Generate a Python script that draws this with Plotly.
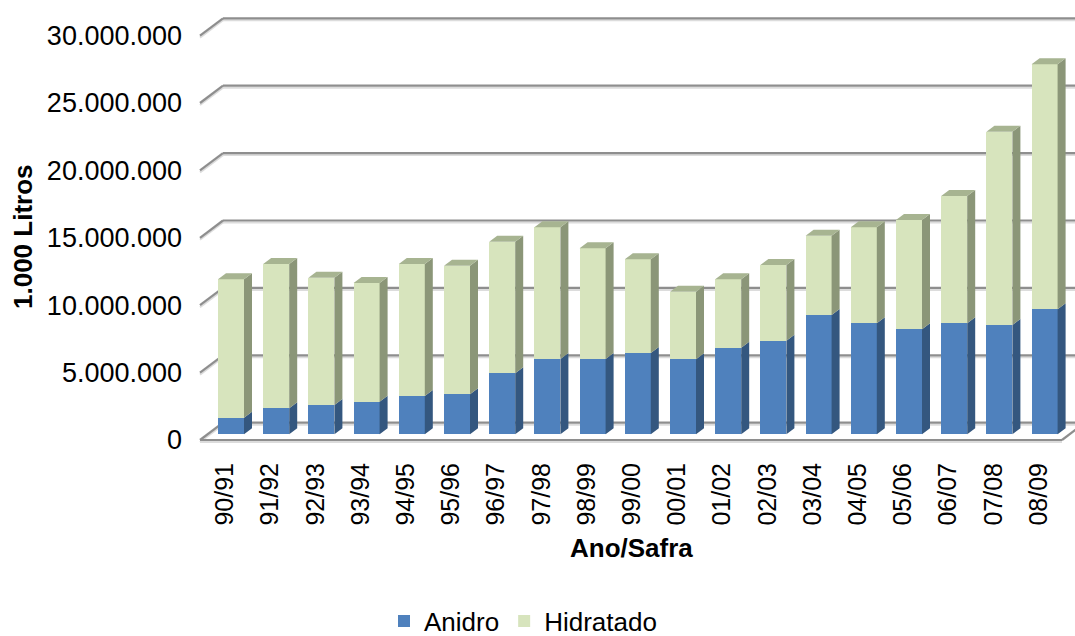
import plotly.graph_objects as go

# Produção de etanol por safra (1.000 litros)
safras = ["90/91", "91/92", "92/93", "93/94", "94/95", "95/96", "96/97", "97/98",
          "98/99", "99/00", "00/01", "01/02", "02/03", "03/04", "04/05", "05/06",
          "06/07", "07/08", "08/09"]
anidro = [1230000, 1930000, 2170000, 2420000, 2840000, 2970000, 4530000, 5590000,
          5590000, 6030000, 5560000, 6420000, 6940000, 8850000, 8230000, 7790000,
          8230000, 8110000, 9270000]
hidratado = [10270000, 10700000, 9450000, 8800000, 9790000, 9540000, 9760000, 9770000,
             8210000, 6950000, 5020000, 5080000, 5620000, 5880000, 7130000, 8110000,
             9450000, 14340000, 18180000]
y_ticks = [0, 5000000, 10000000, 15000000, 20000000, 25000000, 30000000]
y_tick_text = ["0", "5.000.000", "10.000.000", "15.000.000", "20.000.000",
               "25.000.000", "30.000.000"]

# --- figure geometry (pixels) ---
W, H = 1075, 636
ML, MR, MT, MB = 195, 0, 0, 191
PX_CAT = 45.2          # pixels per category
PX_VAL = 13.48         # pixels per 1.000.000
TICK0_PX = 225         # pixel x of first category label
ZERO_PX = 434.3        # pixel y of the bar base


def hx(px):
    return px / PX_CAT


def hy(px):
    return px / PX_VAL * 1e6


x_range = [hx(ML - TICK0_PX), hx(W - MR - TICK0_PX)]
y_range = [-hy((H - MB) - ZERO_PX), hy(ZERO_PX - MT)]

# pseudo-3D offsets
BAR_SHIFT = hx(6)      # bar front face sits a little behind the label plane
BAR_W = hx(26)
DEPTH_X = hx(8)
DEPTH_Y = hy(6)
FRONT_Y = -hy(5.7)     # front plane relative to bar base
BACK_Y = hy(11.6)      # back wall relative to bar base
FRONT_X = hx(200 - TICK0_PX)
BACK_X = hx(223 - TICK0_PX)
FLOOR_END_X = hx(1062 - TICK0_PX)
WALL_DX = BACK_X - FRONT_X

BLUE = "#4F81BD"
BLUE_SIDE = "#34577F"
GREEN = "#D7E4BD"
GREEN_SIDE = "#8B9678"
GREEN_TOP = "#A7B491"
GRID = "#8E8E8E"
GRID_SHADOW = "#DCDCDC"
FONT = "Liberation Sans, Arial, sans-serif"

pos = list(range(len(safras)))
centers = [p + BAR_SHIFT for p in pos]
totals = [a + h for a, h in zip(anidro, hidratado)]

fig = go.Figure()

fig.add_trace(go.Bar(x=centers, y=anidro, width=BAR_W, name="Anidro",
                     marker=dict(color=BLUE, line=dict(width=0))))
fig.add_trace(go.Bar(x=centers, y=hidratado, width=BAR_W, name="Hidratado",
                     marker=dict(color=GREEN, line=dict(width=0))))

# side and top faces of each column
side_blue_x, side_blue_y = [], []
side_green_x, side_green_y = [], []
top_x, top_y = [], []
for c, a, t in zip(centers, anidro, totals):
    xl, xr = c - BAR_W / 2, c + BAR_W / 2
    side_blue_x += [xr, xr + DEPTH_X, xr + DEPTH_X, xr, xr, None]
    side_blue_y += [0, DEPTH_Y, a + DEPTH_Y, a, 0, None]
    side_green_x += [xr, xr + DEPTH_X, xr + DEPTH_X, xr, xr, None]
    side_green_y += [a, a + DEPTH_Y, t + DEPTH_Y, t, a, None]
    top_x += [xl, xr, xr + DEPTH_X, xl + DEPTH_X, xl, None]
    top_y += [t, t, t + DEPTH_Y, t + DEPTH_Y, t, None]

for fx, fy, col in [(side_blue_x, side_blue_y, BLUE_SIDE),
                    (side_green_x, side_green_y, GREEN_SIDE),
                    (top_x, top_y, GREEN_TOP)]:
    fig.add_trace(go.Scatter(x=fx, y=fy, mode="lines", fill="toself",
                             fillcolor=col, line=dict(width=0, color=col),
                             hoverinfo="skip", showlegend=False))

# back wall gridlines, diagonal ticks and floor
shapes = []
sh = hy(2)
for v in y_ticks:
    shapes.append(dict(type="line", layer="below", x0=BACK_X, x1=x_range[1],
                       y0=v + BACK_Y - sh, y1=v + BACK_Y - sh,
                       line=dict(color=GRID_SHADOW, width=2)))
    shapes.append(dict(type="line", layer="below", x0=FRONT_X, x1=BACK_X,
                       y0=v + FRONT_Y - sh, y1=v + BACK_Y - sh,
                       line=dict(color=GRID_SHADOW, width=2)))
for v in y_ticks:
    shapes.append(dict(type="line", layer="below", x0=BACK_X, x1=x_range[1],
                       y0=v + BACK_Y, y1=v + BACK_Y,
                       line=dict(color=GRID, width=2.2)))
    shapes.append(dict(type="line", layer="below", x0=FRONT_X, x1=BACK_X,
                       y0=v + FRONT_Y, y1=v + BACK_Y,
                       line=dict(color=GRID, width=2.2)))
shapes.append(dict(type="line", layer="below", x0=FRONT_X, x1=FLOOR_END_X,
                   y0=FRONT_Y - sh, y1=FRONT_Y - sh,
                   line=dict(color=GRID_SHADOW, width=2)))
shapes.append(dict(type="line", layer="below", x0=FRONT_X, x1=FLOOR_END_X,
                   y0=FRONT_Y, y1=FRONT_Y, line=dict(color=GRID, width=2.2)))
shapes.append(dict(type="line", layer="below", x0=FLOOR_END_X,
                   x1=FLOOR_END_X + WALL_DX, y0=FRONT_Y, y1=BACK_Y,
                   line=dict(color=GRID, width=2.2)))

fig.update_layout(
    width=W, height=H, autosize=False,
    margin=dict(l=ML, r=MR, t=MT, b=MB, pad=0, autoexpand=False),
    paper_bgcolor="white", plot_bgcolor="white",
    barmode="stack", bargap=0,
    font=dict(family=FONT, size=26, color="#000000"),
    shapes=shapes,
    xaxis=dict(range=x_range, tickvals=pos, ticktext=safras, tickangle=-90,
               showgrid=False, zeroline=False, showline=False, ticks="",
               ticklabelstandoff=12, tickfont=dict(size=25), automargin=False),
    yaxis=dict(range=y_range, tickvals=[v + FRONT_Y for v in y_ticks],
               ticktext=y_tick_text, showgrid=False, zeroline=False,
               showline=False, ticks="", ticklabelstandoff=12,
               tickfont=dict(size=27), automargin=False),
    legend=dict(orientation="h", traceorder="normal",
                x=(523 - ML) / (W - ML - MR), xanchor="center",
                y=-((621 - (H - MB)) / (H - MT - MB)), yanchor="middle",
                font=dict(size=26), bgcolor="rgba(0,0,0,0)"),
    annotations=[
        dict(text="<b>Ano/Safra</b>", xref="paper", yref="paper",
             x=(631 - ML) / (W - ML - MR), y=-((548 - (H - MB)) / (H - MT - MB)),
             xanchor="center", yanchor="middle", showarrow=False,
             font=dict(size=26)),
        dict(text="<b>1.000 Litros</b>", xref="paper", yref="paper",
             x=-((ML - 23) / (W - ML - MR)), y=1 - (237 - MT) / (H - MT - MB),
             xanchor="center", yanchor="middle", textangle=-90, showarrow=False,
             font=dict(size=26)),
    ],
)

fig.write_html("out.html")
